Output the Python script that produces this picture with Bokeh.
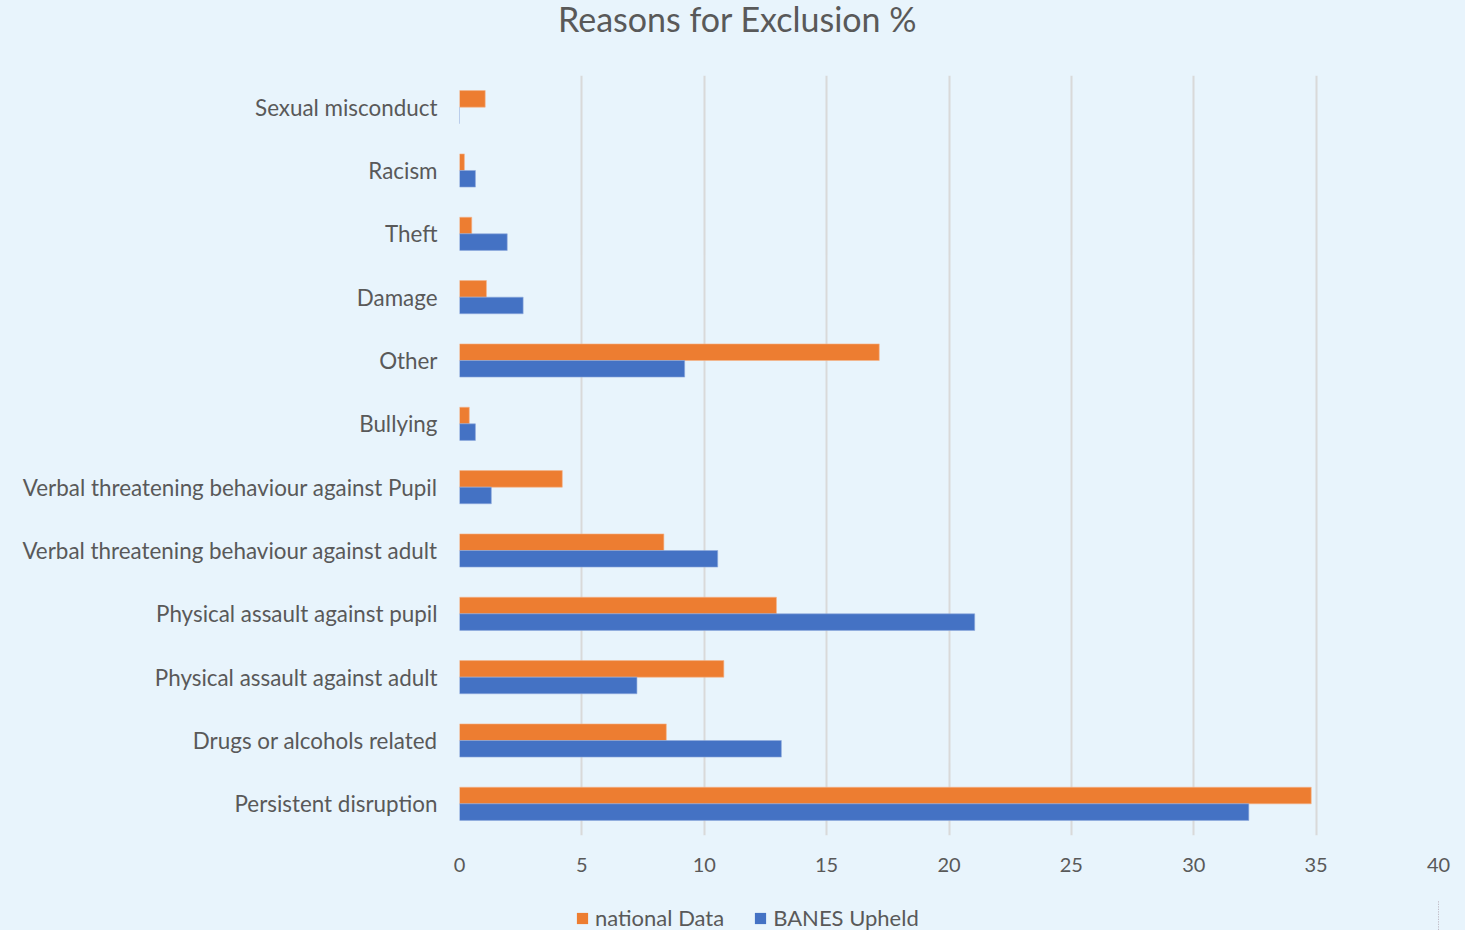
from bokeh.plotting import figure
from bokeh.layouts import column
from bokeh.models import (ColumnDataSource, FactorRange, Range1d, SingleIntervalTicker,
                          Legend, LegendItem, Div)
from bokeh.transform import dodge
from bokeh.embed import file_html
from bokeh.resources import INLINE

# Categories listed bottom to top, as the horizontal bar chart stacks them
categories = [
    "Persistent disruption",
    "Drugs or alcohols related",
    "Physical assault against adult",
    "Physical assault against pupil",
    "Verbal threatening behaviour against adult",
    "Verbal threatening behaviour against Pupil",
    "Bullying",
    "Other",
    "Damage",
    "Theft",
    "Racism",
    "Sexual misconduct",
]
national_data = [34.8, 8.45, 10.8, 12.95, 8.35, 4.2, 0.4, 17.15, 1.1, 0.5, 0.2, 1.05]
banes_upheld = [32.25, 13.15, 7.25, 21.05, 10.55, 1.3, 0.65, 9.2, 2.6, 1.95, 0.65, 0.0]
series_names = ["national Data", "BANES Upheld"]
x_ticks_step = 5
x_max = 40
title_text = "Reasons for Exclusion %"

BG = "#E8F4FC"
TEXT = "#595959"
ORANGE = "#ED7D31"
BLUE = "#4472C4"
FONT = "Lato"

source = ColumnDataSource(dict(cat=categories, national=national_data, banes=banes_upheld))

# chart title as a header strip above the plot
header = Div(
    text=(f'<div style="position:absolute; left:558px; top:2px; font-family:{FONT}; '
          f'font-size:34px; line-height:34px; color:{TEXT}; white-space:nowrap;">'
          f'{title_text}</div>'),
    width=1465, height=75,
    styles={"background-color": BG, "position": "relative", "margin": "0", "padding": "0"},
)

p = figure(
    frame_width=979, frame_height=760,
    y_range=FactorRange(*categories, range_padding=0),
    x_range=Range1d(0, x_max),
    output_backend="svg", toolbar_location=None,
    min_border_left=459, min_border_right=27,
    min_border_top=0, min_border_bottom=65,
    background_fill_color=BG, border_fill_color=BG,
    outline_line_color=None,
)

bar_h = 0.262
p.hbar(y=dodge("cat", bar_h / 2, range=p.y_range), right="national", left=0,
       height=bar_h, source=source, fill_color=ORANGE,
       line_color="#F5B48A", line_width=1, line_alpha=0.6)
p.hbar(y=dodge("cat", -bar_h / 2, range=p.y_range), right="banes", left=0,
       height=bar_h, source=source, fill_color=BLUE,
       line_color="#8FAADC", line_width=1, line_alpha=0.6)

# grid and axes
p.ygrid.grid_line_color = None
p.xgrid.grid_line_color = "#D9D9D9"
p.xgrid.grid_line_width = 2
p.xaxis.ticker = SingleIntervalTicker(interval=x_ticks_step)
for ax in (p.xaxis[0], p.yaxis[0]):
    ax.axis_line_color = None
    ax.major_tick_line_color = None
    ax.minor_tick_line_color = None
    ax.major_label_text_color = TEXT
    ax.major_label_text_font = FONT
p.xaxis.major_label_text_font_size = "20px"
p.xaxis.major_label_standoff = 16
p.yaxis.major_label_text_font_size = "22.4px"
p.yaxis.major_label_standoff = 16

# legend strip under the chart: the same series drawn with an x range that
# keeps the bars out of view, so only the legend swatches show
key = figure(
    width=1465, height=30, output_backend="svg", toolbar_location=None,
    x_range=Range1d(-2, -1), y_range=FactorRange(*categories),
    min_border_left=0, min_border_right=0, min_border_top=0, min_border_bottom=0,
    background_fill_color=BG, border_fill_color=BG, outline_line_color=None,
    x_axis_type=None, y_axis_type=None,
)
key.xgrid.visible = False
key.ygrid.visible = False
k_nat = key.hbar(y="cat", right="national", left=0, height=0.5, source=source,
                 fill_color=ORANGE, line_color=None)
k_ban = key.hbar(y="cat", right="banes", left=0, height=0.5, source=source,
                 fill_color=BLUE, line_color=None)

legend = Legend(
    items=[LegendItem(label=series_names[0], renderers=[k_nat]),
           LegendItem(label=series_names[1], renderers=[k_ban])],
    orientation="horizontal", location=(116, -1),
    glyph_width=14, glyph_height=14, label_standoff=6, spacing=29,
    padding=0, margin=0, border_line_color=None, background_fill_alpha=0,
    label_text_font=FONT, label_text_font_size="22px", label_text_color=TEXT,
)
key.add_layout(legend, "center")

layout = column(header, p, key, spacing=0, styles={"background-color": BG})
open("out.html", "w").write(file_html(layout, INLINE))
